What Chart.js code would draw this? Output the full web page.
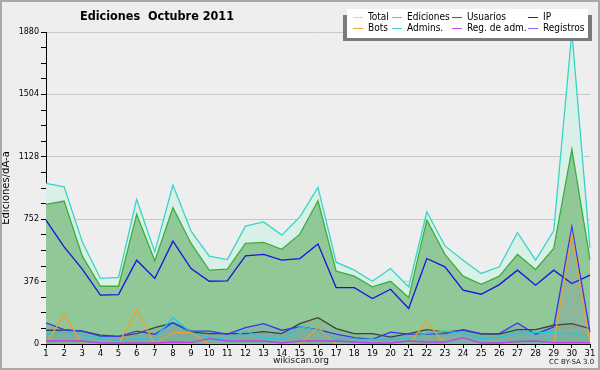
<!DOCTYPE html>
<html lang="es">
<head>
    <meta charset="UTF-8">
    <title>Ediciones Octubre 2011</title>
    <script src="https://cdn.jsdelivr.net/npm/chart.js@4.4.0/dist/chart.umd.min.js"></script>
    <style>
        body { margin: 0; background: #eeeeee; }
        #wrap { position: relative; width: 600px; height: 370px; overflow: hidden; }
        #frame { position: absolute; left: 0; top: 0; width: 596px; height: 366px; border: 2px solid #a8a8a8; pointer-events: none; }
        canvas { position: absolute; left: 0; top: 0; }
        .txt { position: absolute; font-family: "DejaVu Sans", sans-serif; color: #000; white-space: nowrap; }
        #title { left: 157px; top: 8px; transform: translateX(-50%); font-family: "DejaVu Sans Condensed", "DejaVu Sans", sans-serif; font-weight: bold; font-size: 12.5px; }
        #site { left: 301px; top: 355px; transform: translateX(-50%); font-size: 9px; color: #222; }
        #lic { left: 549px; top: 358px; font-size: 7px; color: #222; }
        #shadow { position: absolute; left: 343px; top: 15px; width: 249px; height: 26px; background: #7a7a7a; }
        #legend { position: absolute; left: 347px; top: 9px; width: 241px; height: 29px; background: #fff; }
        .item { position: absolute; font-family: "DejaVu Sans Condensed", "DejaVu Sans", sans-serif; font-size: 10px; line-height: 10px; white-space: nowrap; }
        .item i { display: inline-block; width: 10px; height: 1px; vertical-align: middle; margin-right: 5px; }
    </style>
</head>

<body>
<div id="wrap">
    <canvas id="myChart" width="600" height="370"></canvas>
    <div class="txt" id="title">Ediciones&nbsp; Octubre 2011</div>
    <div id="shadow"></div>
    <div id="legend"></div>
    <div class="txt" id="site">wikiscan.org</div>
    <div class="txt" id="lic">CC BY-SA 3.0</div>
    <div id="frame"></div>
</div>

<script>
    // dias del mes
    var days = ['1', '2', '3', '4', '5', '6', '7', '8', '9', '10', '11', '12', '13', '14', '15', '16',
        '17', '18', '19', '20', '21', '22', '23', '24', '25', '26', '27', '28', '29', '30', '31'];

    var total = [968, 947, 616, 395, 401, 871, 555, 958, 680, 529, 509, 710, 736, 656, 766, 944,
        493, 445, 378, 455, 344, 797, 591, 505, 425, 465, 672, 505, 682, 1880, 576];
    var ediciones = [841, 861, 529, 348, 348, 781, 501, 821, 606, 445, 451, 606, 612, 571, 662, 863,
        439, 409, 344, 378, 280, 747, 540, 409, 360, 409, 540, 449, 576, 1173, 509];
    var usuarios = [747, 585, 451, 294, 298, 505, 395, 620, 455, 378, 380, 531, 540, 505, 515, 602,
        340, 340, 274, 330, 214, 515, 465, 324, 300, 358, 445, 354, 445, 364, 415];
    var ip = [83, 83, 78, 53, 46, 63, 99, 127, 72, 63, 63, 63, 75, 63, 123, 159,
        93, 63, 63, 42, 63, 87, 71, 83, 59, 59, 87, 87, 113, 123, 93];
    var bots = [0, 179, 0, 0, 0, 209, 0, 69, 69, 0, 0, 0, 0, 0, 0, 99,
        0, 0, 0, 0, 0, 135, 0, 0, 0, 0, 0, 0, 0, 666, 0];
    var admins = [53, 78, 53, 32, 22, 32, 38, 159, 69, 42, 27, 77, 36, 32, 103, 83,
        27, 27, 27, 27, 32, 66, 78, 66, 32, 42, 66, 69, 72, 63, 42];
    var regAdm = [18, 18, 18, 6, 6, 6, 6, 12, 10, 32, 18, 18, 18, 6, 18, 18,
        18, 12, 6, 6, 18, 12, 12, 38, 6, 6, 15, 18, 8, 10, 8];
    var registros = [127, 87, 77, 48, 46, 78, 59, 129, 78, 78, 59, 99, 123, 83, 103, 87,
        59, 38, 28, 72, 59, 59, 63, 87, 63, 63, 127, 59, 103, 706, 72];

    var yTicks = [0, 376, 752, 1128, 1504, 1880];

    function serie(label, data, color, order, fill) {
        return {
            label: label,
            data: data,
            borderColor: color,
            backgroundColor: fill || 'transparent',
            fill: fill ? 'origin' : false,
            borderWidth: 1.3,
            pointRadius: 0,
            tension: 0,
            order: order
        };
    }

    var datasets = [
        serie('Reg. de adm.', regAdm, '#c040e8', 1),
        serie('Bots', bots, '#f0a030', 2, 'rgba(240,160,48,0.05)'),
        serie('Admins.', admins, '#20c8e0', 3, 'rgba(32,200,224,0.08)'),
        serie('Registros', registros, '#3838f0', 4, 'rgba(60,60,240,0.11)'),
        serie('IP', ip, '#404040', 5, 'rgba(40,40,80,0.07)'),
        serie('Usuarios', usuarios, '#1414e0', 6),
        serie('Ediciones', ediciones, '#3cae3c', 7, '#90c898'),
        serie('Total', total, '#38d4c4', 8, '#d9f0e9')
    ];

    // leyenda en html
    var legendItems = [
        ['Total', '#a8e8e4', 6, 3], ['Ediciones', '#70d070', 45, 3], ['Usuarios', '#4040f0', 105, 3], ['IP', '#303030', 181, 3],
        ['Bots', '#f8a030', 6, 14], ['Admins.', '#40d0e8', 45, 14], ['Reg. de adm.', '#d040f0', 105, 14], ['Registros', '#7070f8', 181, 14]
    ];
    var legend = document.getElementById('legend');
    legendItems.forEach(function (it) {
        var d = document.createElement('div');
        d.className = 'item';
        d.style.left = it[2] + 'px';
        d.style.top = it[3] + 'px';
        d.innerHTML = '<i style="background:' + it[1] + '"></i>' + it[0];
        legend.appendChild(d);
    });

    var ctx = document.getElementById('myChart').getContext('2d');
    var chart = new Chart(ctx, {
        type: 'line',
        data: { labels: days, datasets: datasets },
        options: {
            responsive: false,
            animation: false,
            layout: { padding: { top: 32, right: 10, left: 0, bottom: 0 } },
            plugins: { legend: { display: false }, tooltip: { enabled: false } },
            scales: {
                x: {
                    type: 'category',
                    offset: false,
                    afterFit: function (scale) { scale.height = 26; },
                    border: { color: '#000', width: 1 },
                    grid: { drawOnChartArea: false, tickColor: '#000', tickLength: 4 },
                    ticks: {
                        color: '#000', padding: 1, maxRotation: 0, autoSkip: false,
                        font: { family: 'DejaVu Sans', size: 8.5 }
                    }
                },
                y: {
                    min: 0,
                    max: yTicks[yTicks.length - 1],
                    afterFit: function (scale) { scale.width = 46; },
                    border: { color: '#000', width: 1 },
                    grid: {
                        color: function (c) {
                            return yTicks.indexOf(c.tick.value) >= 0 ? '#c8c8c8' : 'transparent';
                        },
                        tickColor: '#000',
                        tickLength: 5
                    },
                    ticks: {
                        stepSize: 94,
                        color: '#000',
                        padding: 2,
                        font: { family: 'DejaVu Sans', size: 8 },
                        callback: function (v) { return yTicks.indexOf(v) >= 0 ? v : ''; }
                    },
                    title: {
                        display: true,
                        text: 'Ediciones/dÃ-a',
                        color: '#000',
                        padding: { top: 0, bottom: 2 },
                        font: { family: 'DejaVu Sans', size: 10 }
                    }
                }
            }
        }
    });
</script>
</body>
</html>
